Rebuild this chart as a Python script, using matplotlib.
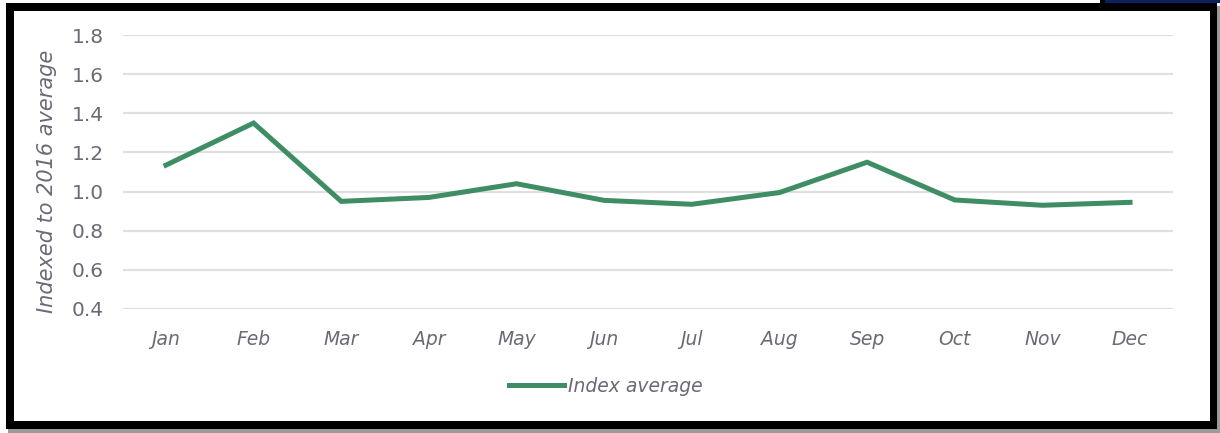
import matplotlib
matplotlib.use("Agg")
import matplotlib.pyplot as plt
from matplotlib.patches import Rectangle

months = ["Jan", "Feb", "Mar", "Apr", "May", "Jun",
          "Jul", "Aug", "Sep", "Oct", "Nov", "Dec"]
index_avg = [1.135, 1.35, 0.95, 0.97, 1.04, 0.955,
             0.935, 0.995, 1.15, 0.957, 0.93, 0.945]
y_ticks = [0.4, 0.6, 0.8, 1.0, 1.2, 1.4, 1.6, 1.8]

W, H = 1220, 433
LINE_GREEN = "#3f8d65"
TEXT_GREY = "#6a6a76"

plt.rcParams["font.family"] = ["DejaVu Sans"]

fig = plt.figure(figsize=(W / 100, H / 100), dpi=100)
fig.patch.set_facecolor("white")


def px(x0, y0, x1, y1):
    # pixel box (top-left origin) -> figure fraction rectangle
    return (x0 / W, 1 - y1 / H), (x1 - x0) / W, (y1 - y0) / H


# drop shadow + black frame around the chart
for (x0, y0, x1, y1), col in [
    ((8, 6, 1220, 433), "#9a9a9a"),
    ((6, 3, 1217, 429), "black"),
    ((14, 11, 1210, 421), "white"),
    ((1105, 0, 1220, 3), "#0d2160"),
    ((1100, 0, 1105, 3), "black"),
]:
    xy, w, h = px(x0, y0, x1, y1)
    fig.patches.append(Rectangle(xy, w, h, transform=fig.transFigure,
                                 facecolor=col, edgecolor="none", zorder=-5))

ax = fig.add_axes([123 / W, 1 - 309 / H, 1050 / W, 274 / H])
ax.set_zorder(2)
ax.set_facecolor("none")

ax.plot(range(len(months)), index_avg, color=LINE_GREEN, lw=3.6,
        solid_joinstyle="miter", label="Index average", zorder=3)

ax.set_xlim(-0.49, 11.49)
ax.set_ylim(0.4, 1.8)
ax.set_yticks(y_ticks)
ax.set_yticklabels([f"{v:.1f}" for v in y_ticks])
ax.set_xticks(range(len(months)))
ax.set_xticklabels(months, fontstyle="italic")

ax.grid(axis="y", color="#e0e0e0", lw=1.6, zorder=1)
ax.set_axisbelow(True)
for s in ax.spines.values():
    s.set_visible(False)

ax.tick_params(axis="y", length=0, pad=14, labelsize=14.5, labelcolor=TEXT_GREY)
ax.tick_params(axis="x", length=0, pad=15, labelsize=13.5, labelcolor=TEXT_GREY)

ax.set_ylabel("Indexed to 2016 average", fontsize=15, fontstyle="italic",
              color=TEXT_GREY)
ax.yaxis.set_label_coords(-0.063, 0.467)

leg = fig.legend(loc="center", bbox_to_anchor=(606 / W, 1 - 386 / H),
                 frameon=False, handlelength=2.9, handletextpad=0.25,
                 prop={"size": 13.5, "style": "italic"}, labelcolor=TEXT_GREY)
leg.set_zorder(3)

fig.savefig("out.png", dpi=100, facecolor=fig.get_facecolor())
